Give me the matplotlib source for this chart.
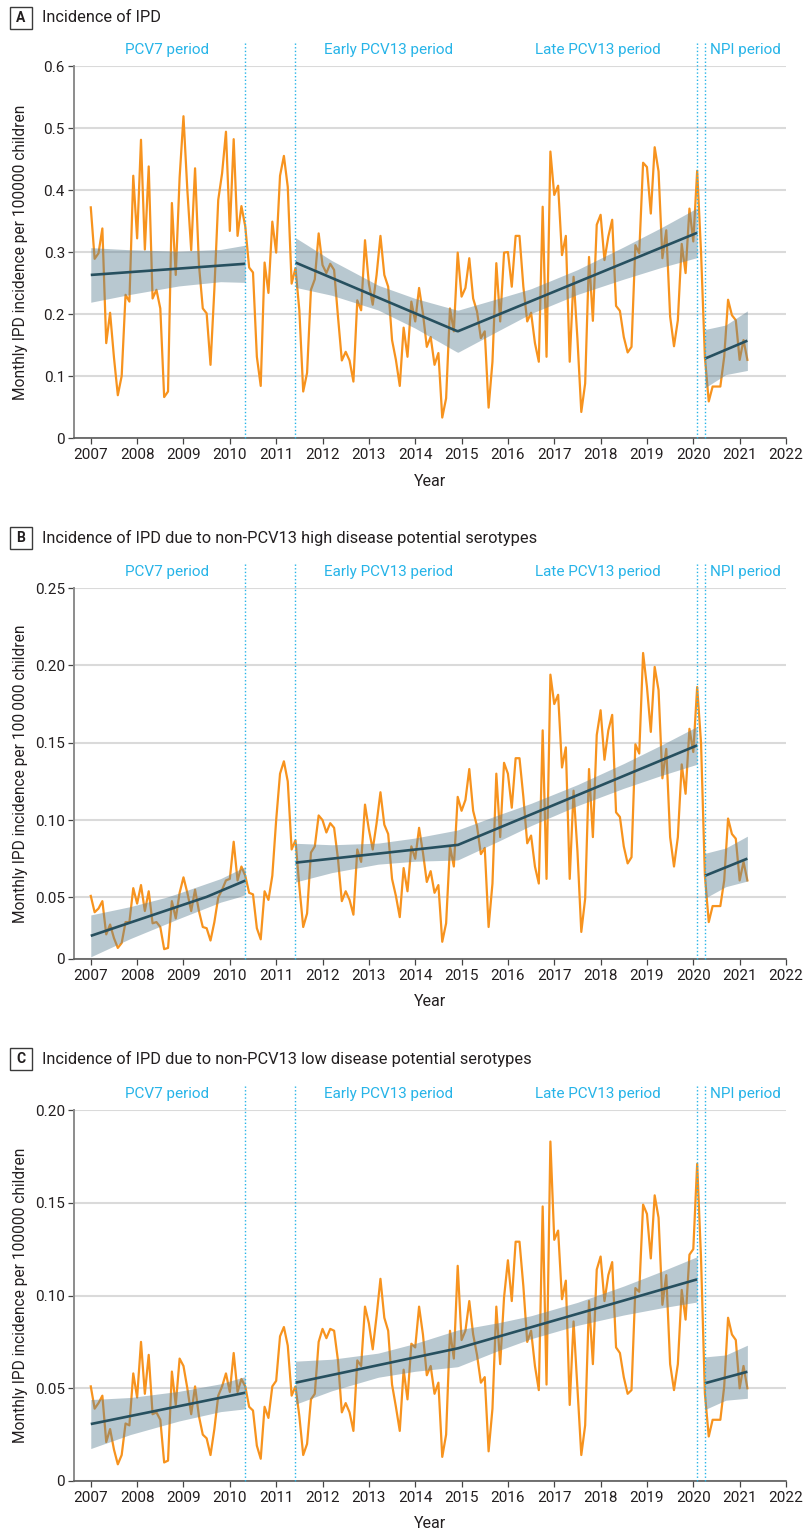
import numpy as np
import matplotlib
matplotlib.use("Agg")
import matplotlib.pyplot as plt
from matplotlib.patches import Rectangle
from matplotlib.ticker import NullLocator
import matplotlib.transforms as mtransforms

plt.rcParams['font.family'] = ['Roboto', 'DejaVu Sans']

# ---------------- data ----------------
START_YEAR = 2007  # monthly series, first point = January 2007

ipd_all = [
    0.372, 0.289, 0.298, 0.338, 0.153, 0.202, 0.130, 0.069, 0.100, 0.231, 0.220, 0.423,
    0.322, 0.481, 0.304, 0.438, 0.225, 0.239, 0.209, 0.066, 0.075, 0.379, 0.263, 0.420,
    0.519, 0.400, 0.303, 0.435, 0.280, 0.209, 0.201, 0.118, 0.240, 0.384, 0.427, 0.494,
    0.334, 0.482, 0.326, 0.374, 0.341, 0.275, 0.267, 0.131, 0.084, 0.283, 0.234, 0.349,
    0.299, 0.423, 0.455, 0.405, 0.249, 0.274, 0.206, 0.075, 0.105, 0.239, 0.256, 0.330,
    0.279, 0.266, 0.281, 0.271, 0.196, 0.125, 0.139, 0.125, 0.091, 0.222, 0.206, 0.319,
    0.249, 0.215, 0.263, 0.326, 0.263, 0.244, 0.158, 0.126, 0.084, 0.178, 0.131, 0.220,
    0.188, 0.242, 0.201, 0.147, 0.163, 0.118, 0.137, 0.033, 0.064, 0.209, 0.172, 0.299,
    0.228, 0.242, 0.290, 0.225, 0.204, 0.161, 0.172, 0.049, 0.123, 0.282, 0.188, 0.299,
    0.300, 0.244, 0.326, 0.326, 0.244, 0.188, 0.202, 0.153, 0.123, 0.373, 0.131, 0.462,
    0.392, 0.407, 0.295, 0.326, 0.123, 0.260, 0.160, 0.042, 0.088, 0.292, 0.189, 0.344,
    0.360, 0.287, 0.325, 0.352, 0.213, 0.205, 0.163, 0.138, 0.147, 0.311, 0.298, 0.444,
    0.437, 0.362, 0.469, 0.430, 0.290, 0.335, 0.196, 0.148, 0.190, 0.313, 0.266, 0.370,
    0.317, 0.431, 0.300, 0.130, 0.059, 0.083, 0.083, 0.083, 0.131, 0.223, 0.198, 0.190,
    0.126, 0.158, 0.126,
]

ipd_high = [
    0.051, 0.038, 0.041, 0.047, 0.020, 0.028, 0.017, 0.009, 0.013, 0.030, 0.030, 0.056,
    0.045, 0.058, 0.039, 0.054, 0.029, 0.030, 0.026, 0.008, 0.009, 0.047, 0.033, 0.053,
    0.063, 0.053, 0.039, 0.055, 0.039, 0.026, 0.025, 0.015, 0.030, 0.050, 0.055, 0.061,
    0.062, 0.086, 0.061, 0.070, 0.064, 0.053, 0.052, 0.025, 0.016, 0.054, 0.048, 0.064,
    0.100, 0.130, 0.138, 0.125, 0.081, 0.087, 0.057, 0.026, 0.037, 0.079, 0.083, 0.103,
    0.100, 0.092, 0.098, 0.095, 0.075, 0.047, 0.054, 0.048, 0.036, 0.081, 0.073, 0.110,
    0.094, 0.081, 0.098, 0.118, 0.097, 0.091, 0.062, 0.051, 0.034, 0.069, 0.054, 0.083,
    0.075, 0.095, 0.079, 0.060, 0.067, 0.053, 0.058, 0.014, 0.029, 0.083, 0.070, 0.115,
    0.106, 0.113, 0.133, 0.106, 0.096, 0.078, 0.082, 0.026, 0.059, 0.130, 0.089, 0.137,
    0.130, 0.108, 0.140, 0.140, 0.115, 0.085, 0.090, 0.070, 0.059, 0.158, 0.062, 0.194,
    0.175, 0.181, 0.134, 0.147, 0.062, 0.119, 0.080, 0.022, 0.049, 0.133, 0.089, 0.155,
    0.171, 0.139, 0.158, 0.168, 0.105, 0.102, 0.083, 0.072, 0.076, 0.149, 0.143, 0.208,
    0.186, 0.157, 0.199, 0.184, 0.127, 0.146, 0.089, 0.070, 0.089, 0.136, 0.117, 0.159,
    0.144, 0.186, 0.150, 0.064, 0.030, 0.043, 0.043, 0.043, 0.061, 0.101, 0.091, 0.088,
    0.061, 0.073, 0.061,
]

ipd_low = [
    0.051, 0.039, 0.042, 0.046, 0.021, 0.028, 0.017, 0.009, 0.014, 0.031, 0.030, 0.058,
    0.045, 0.075, 0.047, 0.068, 0.036, 0.037, 0.033, 0.010, 0.011, 0.059, 0.041, 0.066,
    0.062, 0.050, 0.036, 0.051, 0.035, 0.025, 0.023, 0.014, 0.028, 0.046, 0.051, 0.058,
    0.048, 0.069, 0.048, 0.055, 0.051, 0.040, 0.038, 0.019, 0.012, 0.040, 0.034, 0.051,
    0.054, 0.078, 0.083, 0.073, 0.046, 0.051, 0.035, 0.014, 0.020, 0.044, 0.047, 0.075,
    0.082, 0.077, 0.082, 0.081, 0.065, 0.037, 0.042, 0.037, 0.027, 0.065, 0.062, 0.094,
    0.085, 0.071, 0.089, 0.109, 0.088, 0.081, 0.052, 0.040, 0.027, 0.060, 0.044, 0.074,
    0.072, 0.094, 0.079, 0.057, 0.062, 0.047, 0.053, 0.013, 0.025, 0.081, 0.066, 0.116,
    0.076, 0.081, 0.097, 0.079, 0.068, 0.053, 0.056, 0.016, 0.039, 0.094, 0.063, 0.099,
    0.119, 0.097, 0.129, 0.129, 0.105, 0.075, 0.081, 0.062, 0.049, 0.148, 0.052, 0.183,
    0.130, 0.135, 0.098, 0.108, 0.041, 0.086, 0.050, 0.014, 0.030, 0.097, 0.063, 0.114,
    0.121, 0.097, 0.111, 0.118, 0.072, 0.069, 0.056, 0.047, 0.049, 0.104, 0.102, 0.149,
    0.144, 0.120, 0.154, 0.142, 0.095, 0.111, 0.063, 0.049, 0.063, 0.103, 0.087, 0.122,
    0.125, 0.171, 0.120, 0.047, 0.024, 0.033, 0.033, 0.033, 0.051, 0.088, 0.079, 0.076,
    0.050, 0.062, 0.050,
]

# period boundaries (May 2010, June 2011, Feb 2020, Apr 2020)
period_bounds = [2010 + 4 / 12, 2011 + 5 / 12, 2020 + 1 / 12, 2020 + 3 / 12]
period_names = ["PCV7 period", "Early PCV13 period", "Late PCV13 period", "NPI period"]
period_label_x = [2008.65, 2013.43, 2017.94, 2021.13]
x_ticks = list(range(2007, 2023))

# segmented regression: x nodes of fitted lines
fit_x_pcv7 = [2007.0, 2010 + 4 / 12]
fit_x_pcv13 = [2011 + 5 / 12, 2014 + 11 / 12, 2020 + 1 / 12]
fit_x_npi = [2020 + 3 / 12, 2021 + 2 / 12]
# x nodes where CI half-widths were read
ci_x_pcv7 = [2007.0, 2007.85, 2008.9, 2009.8, 2010 + 4 / 12]
ci_x_pcv13 = [2011 + 5 / 12, 2012.2, 2013.2, 2014.0, 2014 + 11 / 12, 2015.8,
              2016.5, 2017.5, 2018.5, 2019.3, 2020 + 1 / 12]
ci_x_npi = [2020 + 3 / 12, 2020.7, 2021 + 2 / 12]

# panel A
fit_A_pcv7 = [0.263, 0.281]
fit_A_pcv13 = [0.283, 0.172, 0.331]
fit_A_npi = [0.128, 0.157]
hw_A_pcv7 = [0.044, 0.036, 0.028, 0.026, 0.030]
hw_A_pcv13 = [0.040, 0.028, 0.020, 0.024, 0.034, 0.026, 0.020, 0.020, 0.026, 0.032, 0.040]
hw_A_npi = [0.047, 0.040, 0.048]
# panel B
fit_B_pcv7 = [0.0188, 0.0609]
fit_B_pcv13 = [0.0725, 0.0839, 0.1483]
fit_B_npi = [0.064, 0.0751]
hw_B_pcv7 = [0.017, 0.013, 0.010, 0.008, 0.009]
hw_B_pcv13 = [0.0125, 0.009, 0.0068, 0.0075, 0.0097, 0.0085, 0.0072, 0.0068, 0.0080, 0.0098, 0.0122]
hw_B_npi = [0.0145, 0.0125, 0.0145]
# panel C
fit_C_pcv7 = [0.0307, 0.0476]
fit_C_pcv13 = [0.053, 0.0715, 0.1087]
fit_C_npi = [0.0527, 0.0589]
hw_C_pcv7 = [0.0132, 0.010, 0.008, 0.0075, 0.0087]
hw_C_pcv13 = [0.0116, 0.0085, 0.0065, 0.0075, 0.0099, 0.0075, 0.0062, 0.0062, 0.0078, 0.0098, 0.0122]
hw_C_npi = [0.0142, 0.0122, 0.0143]

yticks_A = [0, 0.1, 0.2, 0.3, 0.4, 0.5, 0.6]
ylabels_A = ["0", "0.1", "0.2", "0.3", "0.4", "0.5", "0.6"]
yticks_B = [0, 0.05, 0.10, 0.15, 0.20, 0.25]
ylabels_B = ["0", "0.05", "0.10", "0.15", "0.20", "0.25"]
yticks_C = [0, 0.05, 0.10, 0.15, 0.20]
ylabels_C = ["0", "0.05", "0.10", "0.15", "0.20"]

# ---------------- style ----------------
W, H = 804, 1532
ORANGE = "#F7931E"
BAND = "#5F8294"
FIT = "#27505F"
BLUE = "#27B4E8"
GRID = "#DADADA"
TXT = "#231F20"

fig = plt.figure(figsize=(W / 100, H / 100), dpi=100)


def fx(px):
    return px / W


def fy(py):
    return 1 - py / H


# Panel B y axis: lowest interval (0-0.05) drawn shorter than the others
K_B = 61.5 / 77.3


def fwd_B(v):
    v = np.asarray(v, dtype=float)
    return np.where(v <= 0.05, v * K_B, 0.05 * K_B + (v - 0.05))


def inv_B(u):
    u = np.asarray(u, dtype=float)
    return np.where(u <= 0.05 * K_B, u / K_B, u - 0.05 * K_B + 0.05)


def panel(top, bottom, letter, title_y, title, ylabel, values, fits, hws, yticks, ylabels,
          ylim, scale=None):
    left, right = 74, 786
    ax = fig.add_axes([fx(left), fy(bottom), fx(right - left), (bottom - top) / H])
    hpx = bottom - top
    if scale is not None:
        ax.set_yscale("function", functions=scale)
    ax.set_xlim(2006.638, 2022.0)
    ax.set_ylim(*ylim)
    ax.set_yticks(yticks)
    ax.set_yticklabels(ylabels)
    ax.yaxis.set_minor_locator(NullLocator())
    ax.set_xticks(x_ticks)
    ax.set_xticklabels([str(t) for t in x_ticks])
    ax.xaxis.set_minor_locator(NullLocator())

    ax.yaxis.grid(True, color=GRID, lw=1.5, zorder=0)
    ax.set_axisbelow(True)
    for s in ("top", "right"):
        ax.spines[s].set_visible(False)
    ax.spines["left"].set_color("#8C8C8C")
    ax.spines["left"].set_linewidth(1.4)
    ax.spines["bottom"].set_color("#5A5A5A")
    ax.spines["bottom"].set_linewidth(1.2)
    ax.tick_params(axis="both", direction="out", length=4.5, width=0.9, color="#444444",
                   labelsize=11, labelcolor=TXT)
    ax.tick_params(axis="y", pad=2)
    ax.tick_params(axis="x", pad=3)

    # monthly incidence
    x = START_YEAR + np.arange(len(values)) / 12
    ax.plot(x, values, color=ORANGE, lw=1.6, zorder=2)

    # fitted segments with confidence bands
    groups = [(fit_x_pcv7, fits[0], ci_x_pcv7, hws[0]),
              (fit_x_pcv13, fits[1], ci_x_pcv13, hws[1]),
              (fit_x_npi, fits[2], ci_x_npi, hws[2])]
    for fxn, fv, cx, hw in groups:
        xd = np.linspace(fxn[0], fxn[-1], 300)
        fd = np.interp(xd, fxn, fv)
        hd = np.interp(xd, cx, hw)
        ax.fill_between(xd, fd - hd, fd + hd, color=BAND, alpha=0.44, lw=0, zorder=3)
        ax.plot(xd, fd, color=FIT, lw=1.9, zorder=4, solid_capstyle="butt")

    # period boundaries and labels
    ext = 1 + 25 / hpx
    for xb in period_bounds:
        ax.axvline(xb, ymin=0, ymax=ext, clip_on=False, color=BLUE, lw=1.0,
                   linestyle=(0, (1, 1.6)), zorder=5)
    trans = mtransforms.blended_transform_factory(ax.transData, ax.transAxes)
    for xl, name in zip(period_label_x, period_names):
        ax.text(xl, 1 + 16 / hpx, name, transform=trans, ha="center", va="center",
                color=BLUE, fontsize=11)

    # title with boxed letter
    ty = title_y
    fig.patches.append(Rectangle((fx(10), fy(ty + 11)), fx(22), 22 / H, transform=fig.transFigure,
                                 fill=False, edgecolor="#3A3A3A", lw=1.0))
    fig.text(fx(21), fy(ty), letter, ha="center", va="center", fontsize=10,
             fontweight="bold", color=TXT)
    fig.text(fx(42), fy(ty), title, ha="left", va="center", fontsize=11.8, color=TXT)

    # axis labels
    fig.text(fx(21), fy((top + bottom) / 2), ylabel, rotation=90, ha="center", va="center",
             fontsize=11.2, color=TXT)
    fig.text(fx(430), fy(bottom + 43), "Year", ha="center", va="center", fontsize=11.5, color=TXT)
    return ax


panel(66, 438, "A", 18, "Incidence of IPD",
      "Monthly IPD incidence per 100000 children", ipd_all,
      (fit_A_pcv7, fit_A_pcv13, fit_A_npi), (hw_A_pcv7, hw_A_pcv13, hw_A_npi),
      yticks_A, ylabels_A, (0, 0.6))
panel(588, 959, "B", 538, "Incidence of IPD due to non-PCV13 high disease potential serotypes",
      "Monthly IPD incidence per 100\u2009000 children", ipd_high,
      (fit_B_pcv7, fit_B_pcv13, fit_B_npi), (hw_B_pcv7, hw_B_pcv13, hw_B_npi),
      yticks_B, ylabels_B, (0, 0.25), scale=(fwd_B, inv_B))
panel(1110, 1481, "C", 1059, "Incidence of IPD due to non-PCV13 low disease potential serotypes",
      "Monthly IPD incidence per 100000 children", ipd_low,
      (fit_C_pcv7, fit_C_pcv13, fit_C_npi), (hw_C_pcv7, hw_C_pcv13, hw_C_npi),
      yticks_C, ylabels_C, (0, 0.20))

fig.savefig("out.png", dpi=100)
